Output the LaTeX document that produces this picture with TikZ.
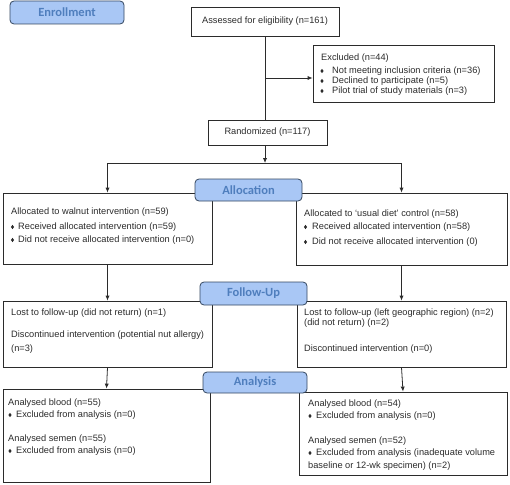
\documentclass[tikz,border=0pt]{standalone}
\usepackage{fontspec}
\setmainfont{Liberation Sans}
\newfontfamily\carlito{Carlito}
\usetikzlibrary{arrows.meta}
\definecolor{lblfill}{HTML}{A9C7F5}
\definecolor{lbltext}{HTML}{4F7EBD}
\definecolor{lbldraw}{HTML}{34475F}
\definecolor{ink}{HTML}{2B2B2B}
\newcommand\bul[2]{\fill[ink] (#1-1.6,#2) -- (#1,#2-2.1) -- (#1+1.6,#2) -- (#1,#2+2.1) -- cycle;}
\tikzset{
  box/.style={draw=ink, line width=0.8pt, inner sep=0pt},
  lbl/.style={draw=lbldraw, line width=0.8pt, fill=lblfill, rounded corners=4pt,
     text=lbltext, font=\carlito\bfseries\fontsize{12.5}{14}\selectfont, inner sep=0pt},
  txt/.style={anchor=west, inner sep=0pt, text=ink, font=\fontsize{9.25}{10}\selectfont,
     text height=6.6pt, text depth=1.9pt},
  ctxt/.style={txt, anchor=center},
  conn/.style={draw=ink, line width=0.8pt},
  arr/.style={conn, -{Latex[length=5pt,width=4.2pt]}}
}
\begin{document}
\begin{tikzpicture}[x=1pt,y=-1pt]
\useasboundingbox (0,0) rectangle (510,484);
% boxes
\node[box, minimum width=148, minimum height=29] (assess) at (265,21.5) {};
\node[box, minimum width=181, minimum height=57] (excl) at (403.5,73.5) {};
\node[box, minimum width=119, minimum height=25] (rand) at (267.5,132.5) {};
\node[box, minimum width=209, minimum height=71] (allocL) at (107.5,228.5) {};
\node[box, minimum width=211, minimum height=72] (allocR) at (401.5,229) {};
\node[box, minimum width=209, minimum height=66] (fuL) at (107.5,334) {};
\node[box, minimum width=209, minimum height=66] (fuR) at (401.5,334) {};
\node[box, minimum width=207, minimum height=93] (anL) at (106.5,435.5) {};
\node[box, minimum width=208, minimum height=83] (anR) at (403,433.5) {};
% connectors
\coordinate (vx) at (265,0);
\coordinate (ej) at (265,78);
\coordinate (split) at (265,163);
\draw[conn] (assess.south -| vx) -- (rand.north -| vx);
\draw[arr] (ej) -- (excl.west |- ej);
\draw[arr] (rand.south -| vx) -- (split);
\draw[arr] (split) -| (allocL.north);
\draw[arr] (split) -| (allocR.north);
\draw[arr] (allocL.south) -- (fuL.north);
\draw[arr] (allocR.south) -- (fuR.north);
\draw[arr] (fuL.south) -- (anL.north);
\draw[arr] (fuR.south) -- (anR.north);
% stage labels
\node[lbl, minimum width=114, minimum height=23] (enroll) at (67,12.5) {Enrollment};
\node[lbl, minimum width=107, minimum height=22] (alloc) at (248.5,190) {Allocation};
\node[lbl, minimum width=107, minimum height=23] (fu) at (253.5,293.5) {Follow-Up};
\node[lbl, minimum width=104, minimum height=21] (an) at (255,382.5) {Analysis};
% texts
\node[ctxt] (t1) at (assess.center) {Assessed for eligibility (n=161)};
\node[txt] (t2) at (321,58) {Excluded (n=44)};
\bul{322}{71}\node[txt] (t3) at (332,71) {Not meeting inclusion criteria (n=36)};
\bul{322}{81}\node[txt] (t4) at (332,81) {Declined to participate (n=5)};
\bul{322}{91}\node[txt] (t5) at (332,91) {Pilot trial of study materials (n=3)};
\node[ctxt] (t6) at (rand.center) {Randomized (n=117)};
\node[txt] (t7) at (11,212) {Allocated to walnut intervention (n=59)};
\bul{12.5}{227}\node[txt] (t8) at (18,227) {Received allocated intervention (n=59)};
\bul{12.5}{240}\node[txt] (t9) at (18,240) {Did not receive allocated intervention (n=0)};
\node[txt] (t10) at (304,214) {Allocated to ‘usual diet’ control (n=58)};
\bul{305.5}{227}\node[txt] (t11) at (312,227) {Received allocated intervention (n=58)};
\bul{305.5}{242}\node[txt] (t12) at (312,242) {Did not receive allocated intervention (0)};
\node[txt] (t13) at (11,313) {Lost to follow-up (did not return) (n=1)};
\node[txt] (t14) at (11,335) {Discontinued intervention (potential nut allergy)};
\node[txt] (t15) at (11,349) {(n=3)};
\node[txt] (t16) at (304,313) {Lost to follow-up (left geographic region) (n=2)};
\node[txt] (t17) at (304,323.5) {(did not return) (n=2)};
\node[txt] (t18) at (304,349) {Discontinued intervention (n=0)};
\node[txt] (t19) at (8,403) {Analysed blood (n=55)};
\bul{10}{415}\node[txt] (t20) at (16,415) {Excluded from analysis (n=0)};
\node[txt] (t21) at (8,439) {Analysed semen (n=55)};
\bul{10}{451}\node[txt] (t22) at (16,451) {Excluded from analysis (n=0)};
\node[txt] (t23) at (308,404) {Analysed blood (n=54)};
\bul{310}{416}\node[txt] (t24) at (316,416) {Excluded from analysis (n=0)};
\node[txt] (t25) at (308,441) {Analysed semen (n=52)};
\bul{310}{453}\node[txt] (t26) at (316,453) {Excluded from analysis (inadequate volume};
\node[txt] (t27) at (308,466) {baseline or 12-wk specimen) (n=2)};
\end{tikzpicture}
\end{document}
